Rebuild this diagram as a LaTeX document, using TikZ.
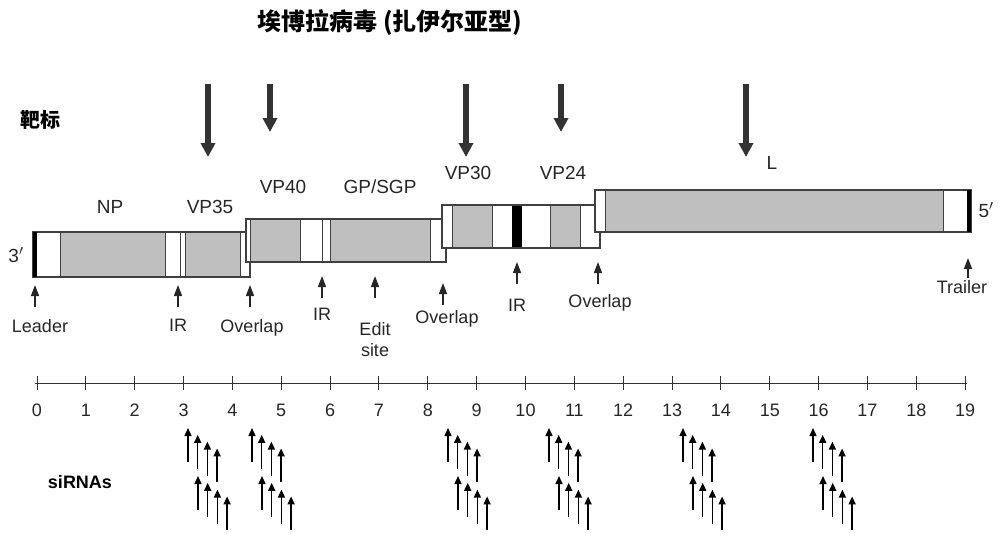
\documentclass[tikz,border=0pt]{standalone}
\usepackage{fontspec}
\setmainfont{Liberation Sans}
\newfontfamily\cjk{Noto Sans CJK SC}
\usetikzlibrary{arrows.meta}
\begin{document}
\begin{tikzpicture}[x=1pt,y=-1pt,
  gbox/.style={draw=black!75,line width=1.2pt},
  gfill/.style={fill=black!25},
  lbl/.style={font=\fontsize{19}{20}\selectfont,text=black!85},
  small/.style={font=\fontsize{18}{21}\selectfont,text=black!85,align=center},
  bigarrow/.style={line width=6pt,-{Triangle[width=14pt,length=14pt]},black!80},
  up/.style={-{Triangle[width=8pt,length=11pt]},line width=1.5pt,black!85},
  si/.style={-{Triangle[width=7pt,length=8pt]},line width=1.5pt},
  ]
\useasboundingbox (0,0) rectangle (1000,535);
\node[font=\cjk\bfseries\fontsize{24}{26}\selectfont] (title) at (390,22) {埃博拉病毒 (扎伊尔亚型)};
\node[font=\cjk\bfseries\fontsize{20}{22}\selectfont] (tgt) at (40,120) {靶标};
\node[font=\bfseries\fontsize{18}{20}\selectfont] (sir) at (80,482) {siRNAs};
% segments
\fill[gfill] (60,232) rectangle (165,277);
\fill[gfill] (185,232) rectangle (240,277);
\draw[gbox] (33,232) rectangle (250,277);
\fill[black] (33,232) rectangle (37,277);
\foreach \x in {60,165,180,185,240} \draw[black!75,line width=1pt] (\x,232)--(\x,277);
\fill[white] (246,219) rectangle (446,262);
\fill[gfill] (250,219) rectangle (300,262);
\fill[gfill] (330,219) rectangle (430,262);
\draw[gbox] (246,219) rectangle (446,262);
\foreach \x in {250,300,322,330,430} \draw[black!75,line width=1pt] (\x,219)--(\x,262);
\fill[white] (442,205) rectangle (600,248);
\fill[gfill] (452,205) rectangle (492,248);
\fill[gfill] (550,205) rectangle (580,248);
\fill[black] (512,205) rectangle (522,248);
\draw[gbox] (442,205) rectangle (600,248);
\foreach \x in {452,492,550,580} \draw[black!75,line width=1pt] (\x,205)--(\x,248);
\fill[white] (595,190) rectangle (971,232);
\fill[gfill] (605,190) rectangle (943,232);
\draw[gbox] (595,190) rectangle (971,232);
\fill[black] (967,190) rectangle (971,232);
\foreach \x in {605,943} \draw[black!75,line width=1pt] (\x,190)--(\x,232);
\node[lbl] (p3) at (16,255) {3$'$};
\node[lbl] (p5) at (986,210) {5$'$};
% gene labels
\node[lbl] (np) at (110,207) {NP};
\node[lbl] (vp35) at (210,207) {VP35};
\node[lbl] (vp40) at (283,187) {VP40};
\node[lbl] (gp) at (380,187) {GP/SGP};
\node[lbl] (vp30) at (468,173) {VP30};
\node[lbl] (vp24) at (563,173) {VP24};
\node[lbl] (l) at (772,163) {L};
% big arrows
\foreach \x/\b in {208/157,270/132,466/157,561/132,746/157}
  \draw[bigarrow] (\x,84) -- (\x,\b);
% site arrows and labels
\foreach \x/\t/\b/\name/\lx/\ly in {35/285/307/Leader/40/329, 178/285/307/IR/178/329, 250/285/307/Overlap/252/329,
   322/276/298/IR/322/318, 375/276/298/Edit\\site/375/332, 443/283/305/Overlap/447/320,
   517/262/284/IR/517/309, 598/262/284/Overlap/600/304, 968/258/278/Trailer/962/290}
  { \draw[up] (\x,\b) -- (\x,\t); \node[small,anchor=north,inner sep=0pt] at (\lx,\ly-10) {\name}; }
% axis
\draw[black!80,line width=1pt] (35,383) -- (967,383);
\foreach \i in {0,...,19} {
  \draw[black!80,line width=1pt] ({37+48.85*\i},376) -- ({37+48.85*\i},390);
  \node[small] at ({37+48.85*\i},410) {\i};
}
% siRNAs
\foreach \gx in {188,252,448,549,683,813} {
  \foreach \k in {0,1,2,3} {
    \draw[si] ({\gx+9.7*\k},{462+6.8*\k}) -- ({\gx+9.7*\k},{428+6.8*\k});
    \draw[si] ({\gx+10+9.7*\k},{510+6.8*\k}) -- ({\gx+10+9.7*\k},{476+6.8*\k});
  }
}
\end{tikzpicture}
\end{document}
